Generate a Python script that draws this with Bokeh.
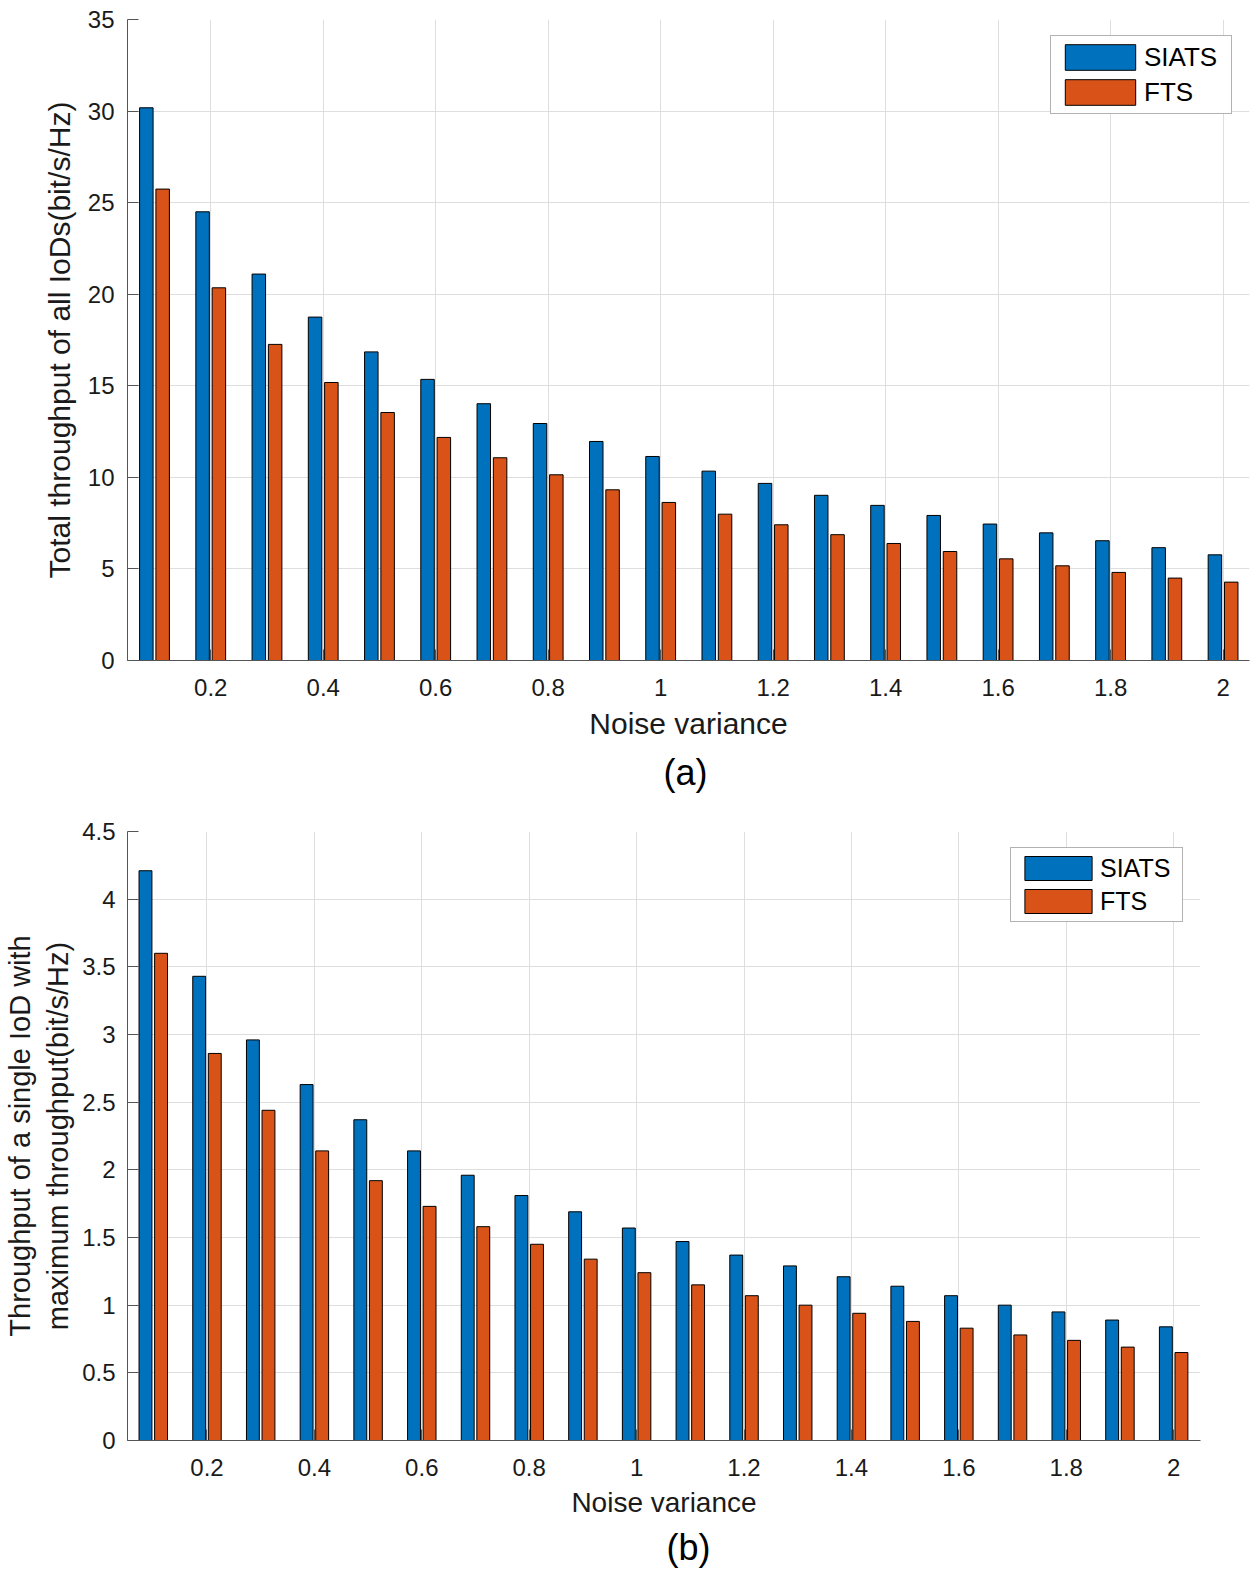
from bokeh.plotting import figure
from bokeh.layouts import column
from bokeh.models import (ColumnDataSource, Range1d, FixedTicker, CustomJSTickFormatter,
                          Legend, LegendItem, Title)
from bokeh.transform import dodge
from bokeh.embed import file_html
from bokeh.resources import INLINE

# ---------------- data ----------------
noise = [0.1, 0.2, 0.3, 0.4, 0.5, 0.6, 0.7, 0.8, 0.9, 1.0,
         1.1, 1.2, 1.3, 1.4, 1.5, 1.6, 1.7, 1.8, 1.9, 2.0]
series_names = ["SIATS", "FTS"]

siats_total = [30.18, 24.50, 21.10, 18.75, 16.85, 15.35, 14.02, 12.94, 11.96, 11.14,
               10.34, 9.67, 9.02, 8.47, 7.92, 7.45, 6.97, 6.54, 6.16, 5.77]
fts_total = [25.74, 20.35, 17.26, 15.18, 13.54, 12.18, 11.07, 10.14, 9.32, 8.63,
             7.99, 7.41, 6.87, 6.39, 5.95, 5.55, 5.17, 4.81, 4.50, 4.28]

siats_single = [4.21, 3.43, 2.96, 2.63, 2.37, 2.14, 1.96, 1.81, 1.69, 1.57,
                1.47, 1.37, 1.29, 1.21, 1.14, 1.07, 1.00, 0.95, 0.89, 0.84]
fts_single = [3.60, 2.86, 2.44, 2.14, 1.92, 1.73, 1.58, 1.45, 1.34, 1.24,
              1.15, 1.07, 1.00, 0.94, 0.88, 0.83, 0.78, 0.74, 0.69, 0.65]

x_ticks = [0.2, 0.4, 0.6, 0.8, 1.0, 1.2, 1.4, 1.6, 1.8, 2.0]
y_ticks_a = [0, 5, 10, 15, 20, 25, 30, 35]
y_ticks_b = [0, 0.5, 1, 1.5, 2, 2.5, 3, 3.5, 4, 4.5]

x_label = "Noise variance"
y_label_a = "Total throughput of all IoDs(bit/s/Hz)"
y_label_b = "Throughput of a single IoD with\nmaximum throughput(bit/s/Hz)"

# ---------------- style ----------------
BLUE = "#0072BD"
ORANGE = "#D95319"
FONT = "Liberation Sans"
AXIS_C = "#555555"
GRID_C = "#dedede"
BAR_W = 0.024
OFF = 0.0145

fmt = CustomJSTickFormatter(code="return String(Math.round(tick*10)/10);")


def make_panel(fw, fh, xr, yr, yticks, siats, fts, ylabel, caption,
               mb_left, mb_right, mb_top, mb_bottom, leg_loc, leg_glyph,
               leg_label_w, tick_fs, xlabel_fs, ylabel_fs, leg_fs, cap_fs, cap_offset,
               cap_standoff, x_lab_standoff, x_axlab_standoff, y_lab_standoff,
               y_axlab_standoff):
    src = ColumnDataSource(dict(x=noise, siats=siats, fts=fts))
    p = figure(frame_width=fw, frame_height=fh, x_range=Range1d(*xr), y_range=Range1d(*yr),
               output_backend="svg", toolbar_location=None,
               min_border_left=mb_left, min_border_right=mb_right,
               min_border_top=mb_top, min_border_bottom=mb_bottom)
    p.outline_line_color = None
    p.background_fill_color = "white"
    p.border_fill_color = "white"

    r1 = p.vbar(x=dodge("x", -OFF), top="siats", width=BAR_W, source=src,
                fill_color=BLUE, line_color="black", line_width=1)
    r2 = p.vbar(x=dodge("x", OFF), top="fts", width=BAR_W, source=src,
                fill_color=ORANGE, line_color="black", line_width=1)

    xt = FixedTicker(ticks=x_ticks, minor_ticks=[])
    yt = FixedTicker(ticks=yticks, minor_ticks=[])
    p.xaxis.ticker = xt
    p.yaxis.ticker = yt
    p.xgrid.ticker = xt
    p.ygrid.ticker = yt
    p.xaxis.formatter = fmt
    p.yaxis.formatter = fmt
    for g in (p.xgrid, p.ygrid):
        g.grid_line_color = GRID_C
        g.grid_line_width = 1

    for ax in (p.xaxis, p.yaxis):
        ax.axis_line_color = AXIS_C
        ax.axis_line_width = 1
        ax.major_tick_line_color = AXIS_C
        ax.major_tick_in = 11
        ax.major_tick_out = 0
        ax.minor_tick_line_color = None
        ax.major_label_text_font = FONT
        ax.major_label_text_font_size = tick_fs
        ax.major_label_text_color = "#1a1a1a"
        ax.axis_label_text_font = FONT
        ax.axis_label_text_font_style = "normal"
        ax.axis_label_text_color = "#1a1a1a"
    p.xaxis.axis_label_text_font_size = xlabel_fs
    p.yaxis.axis_label_text_font_size = ylabel_fs

    p.xaxis.axis_label = x_label
    p.yaxis.axis_label = ylabel
    p.xaxis.major_label_standoff = x_lab_standoff
    p.xaxis.axis_label_standoff = x_axlab_standoff
    p.yaxis.major_label_standoff = y_lab_standoff
    p.yaxis.axis_label_standoff = y_axlab_standoff

    legend = Legend(items=[LegendItem(label=series_names[0], renderers=[r1]),
                           LegendItem(label=series_names[1], renderers=[r2])],
                    location=leg_loc)
    legend.glyph_width = leg_glyph[0]
    legend.glyph_height = leg_glyph[1]
    legend.label_width = leg_label_w
    legend.label_standoff = 0
    legend.spacing = 3
    legend.padding = 5
    legend.margin = 0
    legend.label_text_font = FONT
    legend.label_text_font_size = leg_fs
    legend.label_text_color = "black"
    legend.border_line_color = "#666666"
    legend.border_line_width = 1
    legend.background_fill_color = "white"
    legend.background_fill_alpha = 1.0
    p.add_layout(legend)

    t = Title(text=caption, align="left", offset=cap_offset, standoff=cap_standoff,
              text_font=FONT, text_font_size=cap_fs, text_font_style="normal",
              text_color="black")
    p.add_layout(t, "below")
    return p


p1 = make_panel(fw=1122, fh=641, xr=(0.052, 2.047), yr=(0, 35), yticks=y_ticks_a,
                siats=siats_total, fts=fts_total, ylabel=y_label_a, caption="(a)",
                mb_left=126, mb_right=2, mb_top=19, mb_bottom=140,
                leg_loc=(923, 546), leg_glyph=(88, 32), leg_label_w=82,
                tick_fs="24px", xlabel_fs="30px", ylabel_fs="30px", leg_fs="26px",
                cap_fs="36px", cap_offset=536, cap_standoff=14,
                x_lab_standoff=18, x_axlab_standoff=8,
                y_lab_standoff=13, y_axlab_standoff=9)

p2 = make_panel(fw=1073, fh=609, xr=(0.052, 2.05), yr=(0, 4.5), yticks=y_ticks_b,
                siats=siats_single, fts=fts_single, ylabel=y_label_b, caption="(b)",
                mb_left=124, mb_right=40, mb_top=31, mb_bottom=130,
                leg_loc=(883, 518), leg_glyph=(84, 30), leg_label_w=77,
                tick_fs="24px", xlabel_fs="28px", ylabel_fs="29px", leg_fs="25px",
                cap_fs="36px", cap_offset=539, cap_standoff=8,
                x_lab_standoff=18, x_axlab_standoff=8,
                y_lab_standoff=12, y_axlab_standoff=5)

layout = column(p1, p2, spacing=0)
open("out.html", "w").write(file_html(layout, INLINE))
